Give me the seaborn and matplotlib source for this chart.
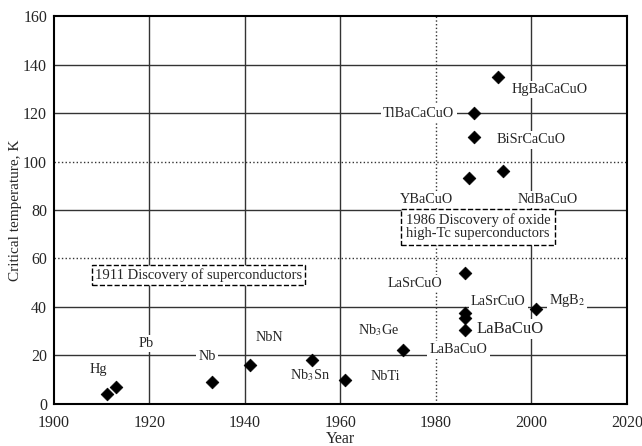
import pandas as pd
import matplotlib.pyplot as plt
import seaborn as sns

years = [1911, 1913, 1933, 1941, 1954, 1961, 1973, 1986, 1986, 1986, 1986, 2001, 1987, 1988, 1988, 1993, 1994]
tc = [4.2, 7.2, 9.2, 16, 18, 10, 22.3, 30.5, 35.3, 37.4, 54, 39, 93, 110, 120, 135, 96]

label_text = ['Hg', 'Pb', 'Nb', 'NbN', 'Nb$_3$Sn', 'NbTi', 'Nb$_3$Ge', 'LaBaCuO', 'LaBaCuO',
              'LaSrCuO', 'LaSrCuO', 'MgB$_2$', 'YBaCuO', 'NdBaCuO', 'BiSrCaCuO', 'TlBaCaCuO', 'HgBaCaCuO']
label_x = [1909.3, 1919.4, 1932, 1945.2, 1953.6, 1969.3, 1967.9, 1984.7, 1995.5,
           1975.6, 1993.0, 2007.4, 1978.0, 2003.5, 1999.9, 1976.4, 2003.9]
label_y = [14.4, 25, 19.5, 27.5, 12, 11.3, 30.5, 22.3, 30.8,
           49.8, 42.2, 42.5, 84.4, 84.4, 108.9, 120, 129.8]

df = pd.DataFrame({'Year': years, 'Tc': tc})

sns.set_style('white')
plt.rcParams['font.family'] = ['Liberation Serif', 'DejaVu Serif']
plt.rcParams['mathtext.fontset'] = 'stix'

fig = plt.figure(figsize=(6.42, 4.46), dpi=100)
ax = fig.add_axes([0.0841, 0.0942, 0.8925, 0.8699])

for y in range(20, 160, 20):
    ls = ':' if y in (60, 100) else '-'
    ax.axhline(y, color='#333333', lw=1, ls=ls, zorder=0)
for x in range(1920, 2020, 20):
    ls = ':' if x == 1980 else '-'
    ax.axvline(x, color='#333333', lw=1, ls=ls, zorder=0)

sns.scatterplot(x='Year', y='Tc', data=df, marker='D', color='black', s=42,
                edgecolor='black', ax=ax, zorder=3)

for t, lx, ly in zip(label_text, label_x, label_y):
    fs = 12 if (t == 'LaBaCuO' and lx > 1990) else 10.3
    ax.text(lx, ly, t, ha='center', va='center', fontsize=fs, zorder=2,
            bbox=dict(facecolor='white', edgecolor='none', pad=1.5))

ax.text(1988.8, 73, '1986 Discovery of oxide\nhigh-Tc superconductors', ha='center', va='center',
        fontsize=10.5, linespacing=1.0, zorder=2,
        bbox=dict(facecolor='white', edgecolor='black', ls='--', pad=3))
ax.text(1930.2, 53.2, '1911 Discovery of superconductors', ha='center', va='center',
        fontsize=10.5, zorder=2,
        bbox=dict(facecolor='white', edgecolor='black', ls='--', pad=2))

ax.set_xlim(1900, 2020)
ax.set_ylim(0, 160)
ax.set_xticks(range(1900, 2021, 20))
ax.set_yticks(range(0, 161, 20))
ax.tick_params(axis='x', length=0, labelsize=11.5, pad=8)
ax.tick_params(axis='y', length=0, labelsize=11.5, pad=5)
for sp in ax.spines.values():
    sp.set_color('black')
    sp.set_linewidth(1.5)
ax.set_xlabel('Year', fontsize=11.5, labelpad=0)
ax.set_ylabel('Critical temperature, K', fontsize=11, labelpad=1)

fig.savefig('out.png', dpi=100)
